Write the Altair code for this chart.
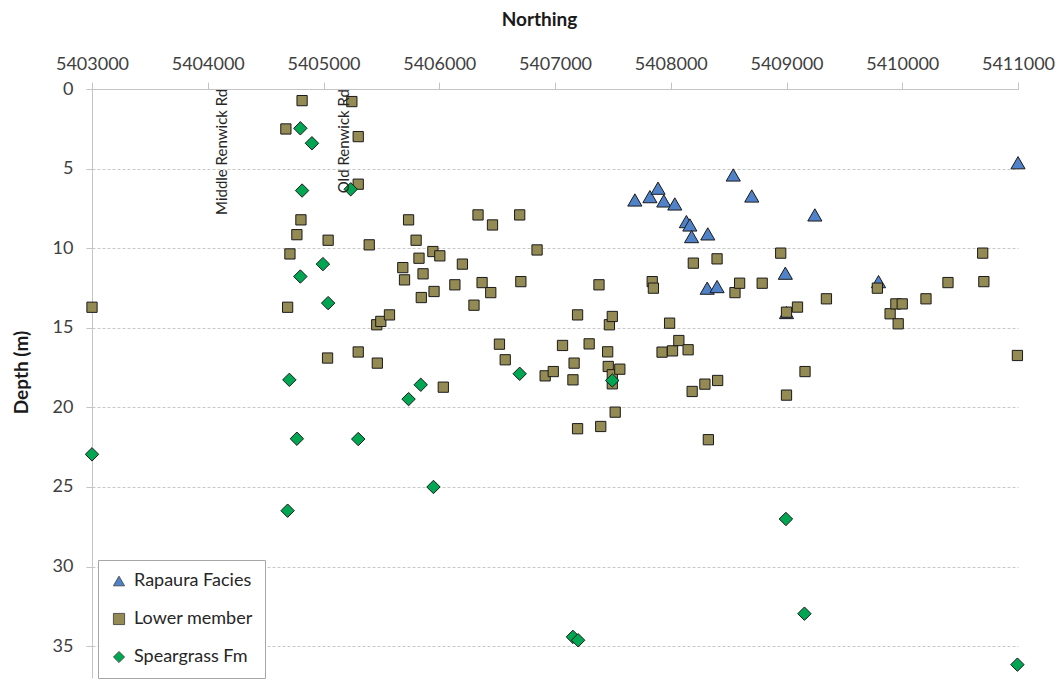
import altair as alt
import pandas as pd

# Borehole depths to the top of each unit, by northing
rapaura_northing = [5407690, 5407820, 5407890, 5407940, 5408035, 5408135, 5408165, 5408180,
                    5408320, 5408315, 5408400, 5408540, 5408700, 5409245, 5408990, 5409000,
                    5409795, 5411000]
rapaura_depth = [6.97, 6.76, 6.23, 7.03, 7.22, 8.33, 8.54, 9.27,
                 9.10, 12.51, 12.41, 5.40, 6.72, 7.91, 11.57, 14.04,
                 12.10, 4.63]

lower_northing = [5403000, 5404675, 5404690, 5404710, 5404770, 5404805, 5404815, 5405040,
                  5405035, 5405245, 5405300, 5405300, 5405300, 5405395, 5405460, 5405465,
                  5405495, 5405570, 5405685, 5405700, 5405735, 5405800, 5405825, 5405845,
                  5405860, 5405945, 5405955, 5406005, 5406035, 5406135, 5406200, 5406300,
                  5406335, 5406370, 5406445, 5406460, 5406520, 5406570, 5406695, 5406705,
                  5406845, 5406915, 5406985, 5407065, 5407155, 5407165, 5407195, 5407195,
                  5407295, 5407380, 5407395, 5407455, 5407460, 5407470, 5407495, 5407495,
                  5407495, 5407520, 5407560, 5407840, 5407850, 5407925, 5407990, 5408015,
                  5408070, 5408150, 5408185, 5408195, 5408295, 5408325, 5408400, 5408405,
                  5408555, 5408595, 5408790, 5408950, 5409000, 5409000, 5409095, 5409160,
                  5409345, 5409785, 5409895, 5409945, 5409965, 5410000, 5410205, 5410395,
                  5410695, 5410705, 5410995]
lower_depth = [13.71, 2.51, 13.71, 10.36, 9.15, 8.22, 0.73, 9.50,
               16.90, 0.79, 2.99, 5.98, 16.52, 9.79, 14.81, 17.22,
               14.60, 14.19, 11.22, 11.99, 8.22, 9.50, 10.63, 13.10,
               11.61, 10.21, 12.72, 10.48, 18.73, 12.30, 11.00, 13.58,
               7.91, 12.16, 12.79, 8.54, 16.03, 17.01, 7.91, 12.10,
               10.11, 18.02, 17.75, 16.11, 18.27, 17.22, 14.19, 21.34,
               16.01, 12.30, 21.20, 16.51, 17.43, 14.81, 14.29, 17.95,
               18.52, 20.30, 17.60, 12.10, 12.51, 16.53, 14.71, 16.45,
               15.80, 16.38, 19.00, 10.94, 18.54, 22.03, 10.67, 18.31,
               12.79, 12.20, 12.20, 10.31, 14.02, 19.23, 13.70, 17.75,
               13.18, 12.51, 14.12, 13.50, 14.75, 13.50, 13.18, 12.16,
               10.31, 12.10, 16.74]

speargrass_northing = [5403000, 5404690, 5404705, 5404770, 5404800, 5404800, 5404815, 5404900,
                       5404995, 5405040, 5405235, 5405300, 5405735, 5405840, 5405950, 5406695,
                       5407155, 5407200, 5407495, 5408995, 5409155, 5410995]
speargrass_depth = [22.95, 26.49, 18.27, 21.97, 2.47, 11.78, 6.38, 3.41,
                    11.00, 13.45, 6.30, 21.99, 19.48, 18.58, 25.00, 17.89,
                    34.42, 34.63, 18.31, 27.01, 32.96, 36.16]

series_names = ["Rapaura Facies", "Lower member", "Speargrass Fm"]
series_fill = ["#4f82c8", "#948a54", "#00a651"]
series_shape = ["triangle-up", "square", "diamond"]
series_size = [200, 105, 180]

road_names = ["Middle Renwick Rd", "Old Renwick Rd"]
road_northing = [5404120, 5405175]
road_depth = [7.91, 6.55]

x_ticks = [5403000, 5404000, 5405000, 5406000, 5407000, 5408000, 5409000, 5410000, 5411000]
y_ticks = [0, 5, 10, 15, 20, 25, 30, 35]

FONT = "Lato"
AXIS_GREY = "#c4c4c4"

rows = []
for name, xs, ys in zip(series_names,
                        [rapaura_northing, lower_northing, speargrass_northing],
                        [rapaura_depth, lower_depth, speargrass_depth]):
    for n, d in zip(xs, ys):
        rows.append({"Northing": n, "Depth": d, "Series": name})
points_df = pd.DataFrame(rows)

roads_df = pd.DataFrame({"Northing": road_northing, "Depth": road_depth, "Road": road_names})

x_scale = alt.Scale(domain=[5403000, 5411000], nice=False, zero=False)
y_scale = alt.Scale(domain=[0, 37], reverse=True, nice=False, zero=False)

legend = alt.Legend(
    title=None, orient="none", legendX=6, legendY=471, direction="vertical",
    strokeColor="#a6a6a6", fillColor="white", padding=12, rowPadding=20,
    labelFont=FONT, labelFontSize=18, labelColor="#262626", labelOffset=6,
    symbolSize=125, symbolStrokeColor="#3a3a3a", symbolStrokeWidth=0.8,
)

x_enc = alt.X("Northing:Q", scale=x_scale, axis=alt.Axis(
    orient="top", values=x_ticks, format="d", title="Northing", grid=False,
    labelFlush=False, labelOverlap=False, labelBound=False,
    domainColor=AXIS_GREY, tickColor=AXIS_GREY, tickSize=7,
    labelFont=FONT, labelFontSize=18, labelColor="#404040", labelPadding=9,
    titleFont=FONT, titleFontSize=19, titleFontWeight="bold", titleColor="#1a1a1a",
    titleX=447, titleY=-64, titleBaseline="alphabetic", titleAnchor="middle",
))
y_enc = alt.Y("Depth:Q", scale=y_scale, axis=alt.Axis(
    values=y_ticks, title="Depth (m)", grid=True,
    labelFlush=False, labelOverlap=False,
    gridColor="#c8c8c8", gridDash=[3, 2], gridWidth=1,
    domainColor=AXIS_GREY, tickColor=AXIS_GREY, tickSize=6,
    labelFont=FONT, labelFontSize=18, labelColor="#404040", labelPadding=13,
    titleFont=FONT, titleFontSize=19, titleFontWeight="bold", titleColor="#1a1a1a",
    titleX=-65, titleY=283, titleBaseline="alphabetic", titleAnchor="middle",
))
color_enc = alt.Color("Series:N", scale=alt.Scale(domain=series_names, range=series_fill), legend=legend)
shape_enc = alt.Shape("Series:N", scale=alt.Scale(domain=series_names, range=series_shape), legend=legend)

base = alt.Chart(points_df)

# one layer per unit, drawn in series order so later units sit on top
layers = []
for name, size in zip(series_names, series_size):
    layers.append(
        base.transform_filter(alt.datum.Series == name)
        .mark_point(filled=True, stroke="#1a1a1a", strokeWidth=1, opacity=1, size=size)
        .encode(x=x_enc, y=y_enc, color=color_enc, shape=shape_enc)
    )

roads = alt.Chart(roads_df).mark_text(
    angle=270, align="left", baseline="middle", font=FONT, fontSize=15, color="#262626"
).encode(
    x=alt.X("Northing:Q", scale=x_scale),
    y=alt.Y("Depth:Q", scale=y_scale),
    text="Road:N",
)

chart = alt.layer(*layers, roads).properties(
    width=926, height=589,
    padding={"left": 92, "top": 89, "right": 44, "bottom": 2},
    autosize=alt.AutoSizeParams(type="none"),
).configure_view(stroke=None)

chart.save("out.html", embed_options={"renderer": "svg", "actions": False})
